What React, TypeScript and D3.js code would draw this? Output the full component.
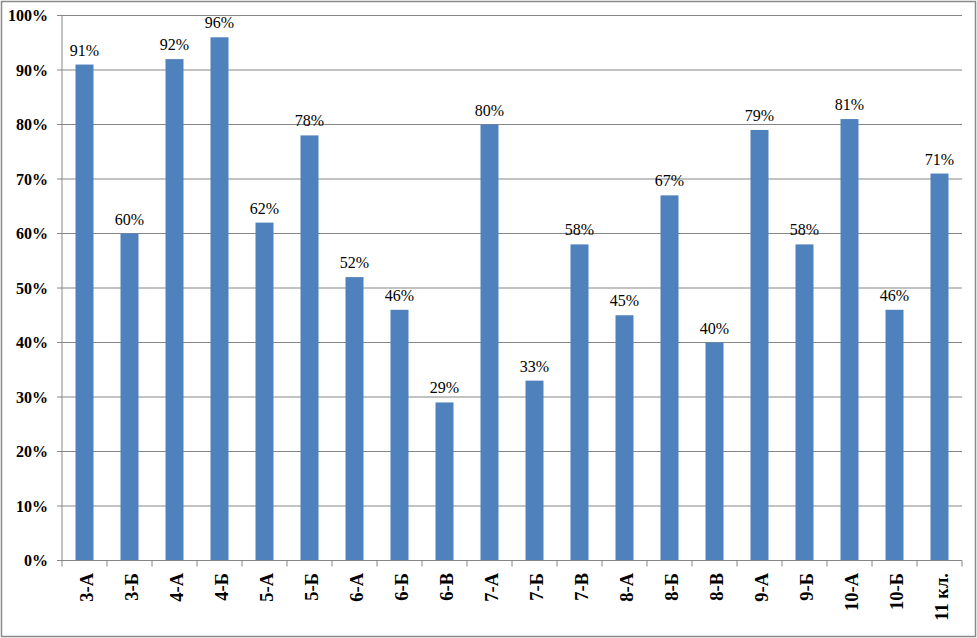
import React from "react";
import * as d3 from "d3";

const categories = ["3-А","3-Б","4-А","4-Б","5-А","5-Б","6-А","6-Б","6-В","7-А","7-Б","7-В","8-А","8-Б","8-В","9-А","9-Б","10-А","10-Б","11 кл."];
const values = [91,60,92,96,62,78,52,46,29,80,33,58,45,67,40,79,58,81,46,71];
const yTicks = [0,10,20,30,40,50,60,70,80,90,100];

const W = 977, H = 638;
const left = 62, right = 962, top = 15.5, bottom = 560.5;
const font = "'Liberation Serif', 'Times New Roman', serif";

export default function App() {
  const x = d3.scaleBand<string>().domain(categories).range([left, right]).paddingInner(0).paddingOuter(0);
  const y = d3.scaleLinear().domain([0, 100]).range([bottom, top]);
  const bw = x.bandwidth() * 0.4;
  return (
    <div style={{ position: "fixed", left: 0, top: 0 }}>
      <svg width={W} height={H} style={{ display: "block", background: "#fff" }}>
        <rect x={1.5} y={1.5} width={974} height={635} fill="#fff" stroke="#898989" strokeWidth={1.5} />
        {yTicks.map((t) => (
          <g key={t}>
            {t > 0 && <line x1={left} x2={right} y1={y(t)} y2={y(t)} stroke="#868686" strokeWidth={1} />}
            <line x1={left - 5} x2={left} y1={y(t)} y2={y(t)} stroke="#868686" strokeWidth={1} />
            <text x={48} y={y(t)} dy="0.35em" textAnchor="end" fontFamily={font} fontWeight="bold" fontSize={16} fill="#000">{t}%</text>
          </g>
        ))}
        {values.map((v, i) => {
          const cx = (x(categories[i]) as number) + x.bandwidth() / 2;
          return (
            <g key={i}>
              <rect x={cx - bw / 2} y={y(v)} width={bw} height={bottom - y(v)} fill="#4F81BD" />
              <text x={cx} y={y(v) - 9} textAnchor="middle" fontFamily={font} fontSize={16} fill="#000">{v}%</text>
            </g>
          );
        })}
        {categories.concat(["_end"]).map((c, i) => {
          const xx = left + i * x.bandwidth();
          return <line key={"t" + i} x1={xx} x2={xx} y1={bottom} y2={bottom + 6} stroke="#868686" strokeWidth={1} />;
        })}
        <line x1={left} x2={left} y1={top} y2={bottom} stroke="#868686" strokeWidth={1} />
        <line x1={left} x2={right} y1={bottom} y2={bottom} stroke="#868686" strokeWidth={1} />
        {categories.map((c, i) => {
          const cx = (x(c) as number) + x.bandwidth() / 2;
          return (
            <text key={c} transform={`translate(${cx + 8.8},${573}) rotate(-90)`} textAnchor="end" fontFamily={font} fontWeight="bold" fontSize={18.5} fill="#000">{c}</text>
          );
        })}
      </svg>
    </div>
  );
}
